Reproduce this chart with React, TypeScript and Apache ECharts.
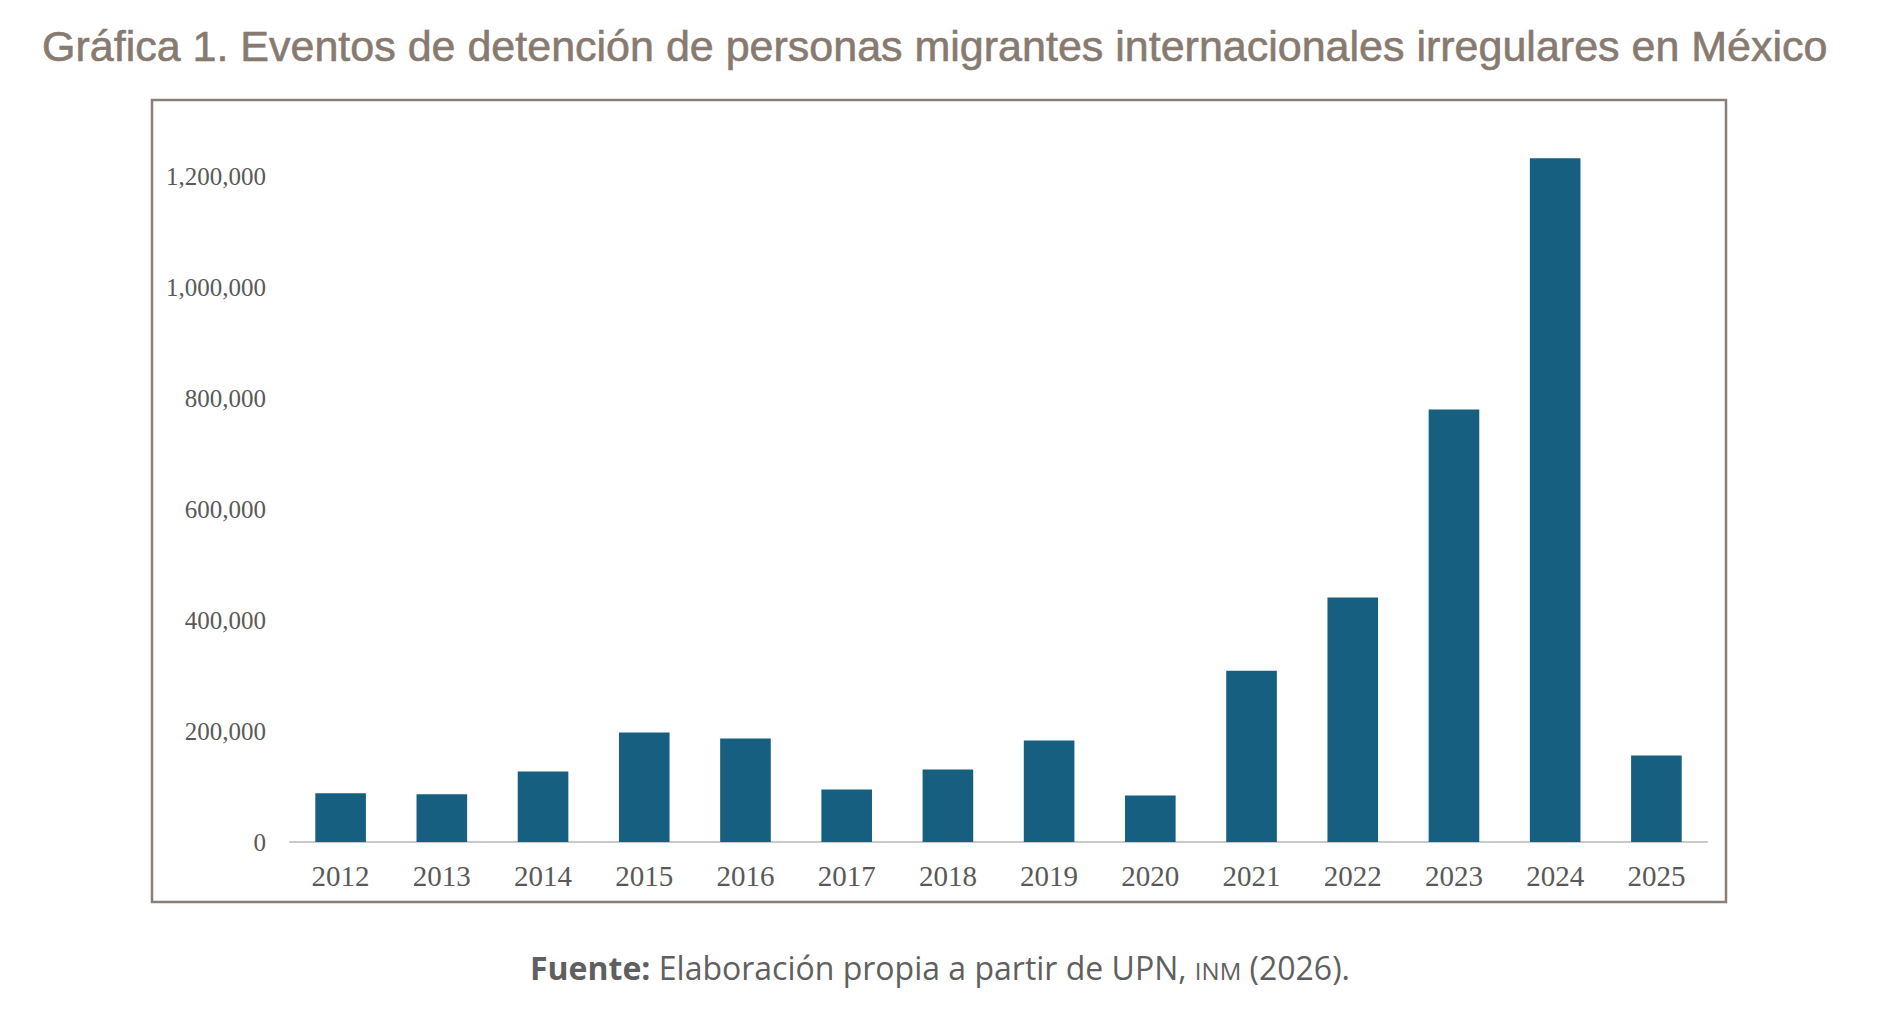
import React, { useEffect, useRef } from "react";
import * as echarts from "echarts";

const years = ["2012","2013","2014","2015","2016","2017","2018","2019","2020","2021","2022","2023","2024","2025"];
const detentions = [87900, 86100, 127000, 197300, 186500, 94600, 130600, 182900, 83800, 308500, 440500, 779300, 1232100, 155900];
const titleText = "Gráfica 1. Eventos de detención de personas migrantes internacionales irregulares en México";

export default function App() {
  const ref = useRef<HTMLDivElement>(null);
  useEffect(() => {
    document.body.style.margin = "0";
    const chart = echarts.init(ref.current!, null, { renderer: "svg" });
    const footColor = "#5f5f5f";
    chart.setOption({
      animation: false,
      backgroundColor: "#ffffff",
      grid: { left: 290, right: 171, top: 65, bottom: 193, containLabel: false },
      xAxis: {
        type: "category",
        data: years,
        axisLine: { lineStyle: { color: "#c9c9c9", width: 2 } },
        axisTick: { show: false },
        axisLabel: { fontFamily: "Liberation Serif", fontSize: 29, color: "#595959", margin: 19 },
      },
      yAxis: {
        type: "value",
        min: 0,
        max: 1400000,
        interval: 200000,
        splitLine: { show: false },
        axisLine: { show: false },
        axisTick: { show: false },
        axisLabel: {
          fontFamily: "Liberation Serif",
          fontSize: 25,
          color: "#595959",
          margin: 24,
          formatter: (v: number) => (v >= 1400000 ? "" : v.toLocaleString("en-US")),
        },
      },
      series: [
        {
          type: "bar",
          data: detentions,
          barCategoryGap: "50%",
          itemStyle: { color: "#175f80" },
        },
      ],
      graphic: [
        {
          type: "text",
          x: 42,
          y: 46,
          style: {
            text: titleText,
            font: '43px "Liberation Sans", Arial, sans-serif',
            fill: "#877a70",
            stroke: "#877a70",
            lineWidth: 0.6,
            textAlign: "left",
            textVerticalAlign: "middle",
            verticalAlign: "middle",
          },
        },
        {
          type: "rect",
          shape: { x: 152, y: 100, width: 1574, height: 802 },
          style: { fill: "none", stroke: "#8a7f77", lineWidth: 2.5 },
          silent: true,
        },
        {
          type: "text",
          x: 940,
          y: 967,
          style: {
            text: "{b|Fuente:} {n|Elaboración propia a partir de UPN,} {s|INM} {n|(2026).}",
            rich: {
              b: { fontFamily: "Open Sans", fontWeight: "bold", fontSize: 32, fill: footColor, color: footColor },
              n: { fontFamily: "Open Sans", fontSize: 32, fill: footColor, color: footColor },
              s: { fontFamily: "Open Sans", fontSize: 24, fill: footColor, color: footColor, padding: [6, 0, 0, 0] },
            },
            fontFamily: "Open Sans",
            fontSize: 32,
            fill: footColor,
            align: "center",
            verticalAlign: "middle",
          },
        },
      ],
    });
    return () => chart.dispose();
  }, []);
  return <div ref={ref} style={{ position: "absolute", left: 0, top: 0, width: 1878, height: 1035 }} />;
}
